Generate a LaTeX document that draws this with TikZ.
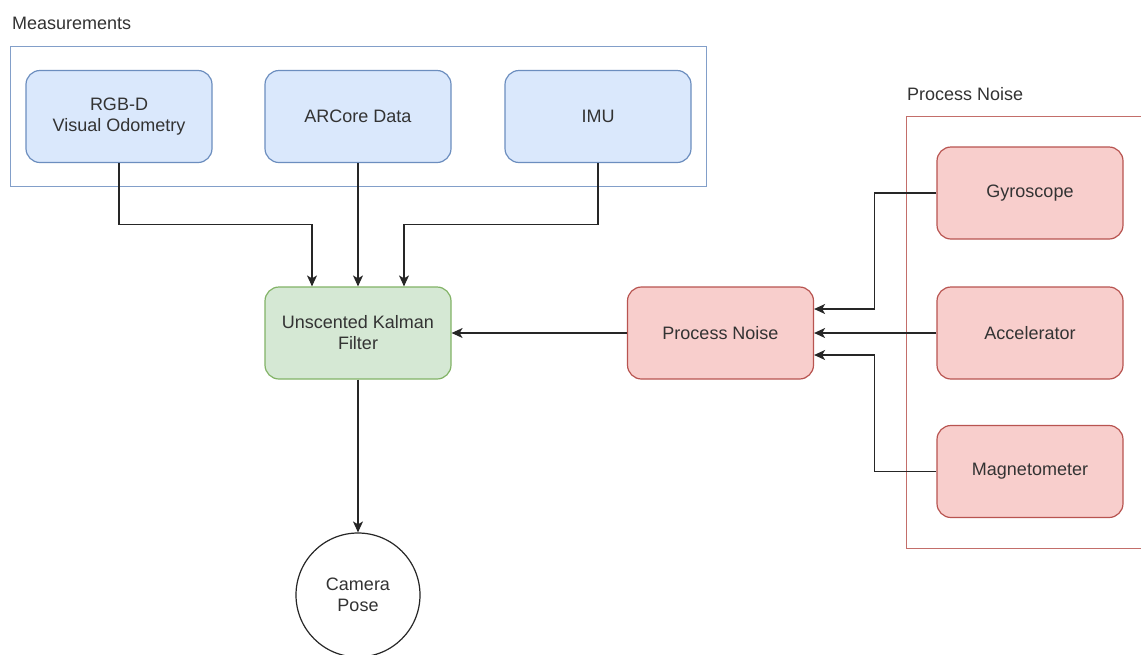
\documentclass[tikz,border=0pt]{standalone}
\usepackage{fontspec}
\setmainfont{Liberation Sans}
\usetikzlibrary{arrows.meta,calc}
\definecolor{bfill}{HTML}{DAE8FC}
\definecolor{bdraw}{HTML}{6C8EBF}
\definecolor{gfill}{HTML}{D5E8D4}
\definecolor{gdraw}{HTML}{82B366}
\definecolor{rfill}{HTML}{F8CECC}
\definecolor{rdraw}{HTML}{B85450}
\definecolor{txt}{HTML}{333333}
\tikzset{
  box/.style={rectangle, rounded corners=14pt, minimum width=186pt, minimum height=92pt,
    line width=1.2pt, align=center, text=txt, font=\fontsize{18}{21}\selectfont, inner sep=0pt},
  bluebox/.style={box, fill=bfill, draw=bdraw},
  greenbox/.style={box, fill=gfill, draw=gdraw},
  redbox/.style={box, fill=rfill, draw=rdraw},
  frame/.style={line width=0.9pt},
  lbl/.style={text=txt, font=\fontsize{18}{21}\selectfont, anchor=west, inner sep=0pt},
  arr/.style={draw=black!85, line width=1.2pt, -{Stealth[length=11pt,width=10pt,inset=3pt]}}
}
\begin{document}
\begin{tikzpicture}[x=1pt,y=-1pt]
\clip (0,0) rectangle (1141,654);
\fill[white] (0,0) rectangle (1141,654);
% frames
\draw[frame, draw=bdraw!85] (10,46) rectangle (706,186);
\node[lbl] (mlab) at (12,23) {Measurements};
\draw[frame, draw=rdraw!85] (906,116) rectangle (1160,548);
\node[lbl] (plab) at (907,94) {Process Noise};
% nodes
\node[bluebox] (rgbd) at (119,116.5) {RGB-D\\Visual Odometry};
\node[bluebox] (arcore) at (358,116.5) {ARCore Data};
\node[bluebox] (imu) at (598,116.5) {IMU};
\node[greenbox] (ukf) at (358,333) {Unscented Kalman\\Filter};
\node[circle, draw=black!85, line width=1.2pt, fill=white, minimum size=124pt, inner sep=0pt,
  align=center, text=txt, font=\fontsize{18}{21}\selectfont] (pose) at (358,595) {Camera\\Pose};
\node[redbox] (pn) at (720.5,333) {Process Noise};
\node[redbox] (gyro) at (1030,193) {Gyroscope};
\node[redbox] (acc) at (1030,333) {Accelerator};
\node[redbox] (mag) at (1030,471.5) {Magnetometer};
% connectors
\draw[arr] (rgbd.south) -- ++(0,61) -| ([xshift=-46pt]ukf.north);
\draw[arr] (arcore.south) -- (ukf.north);
\draw[arr] (imu.south) -- ++(0,61) -| ([xshift=46pt]ukf.north);
\draw[arr] (ukf.south) -- (pose.north);
\draw[arr] (pn.west) -- (ukf.east);
\draw[arr] (gyro.west) -- ++(-62,0) |- ([yshift=24pt]pn.east);
\draw[arr] (acc.west) -- (pn.east);
\draw[arr] (mag.west) -- ++(-62,0) |- ([yshift=-22pt]pn.east);
\end{tikzpicture}
\end{document}
